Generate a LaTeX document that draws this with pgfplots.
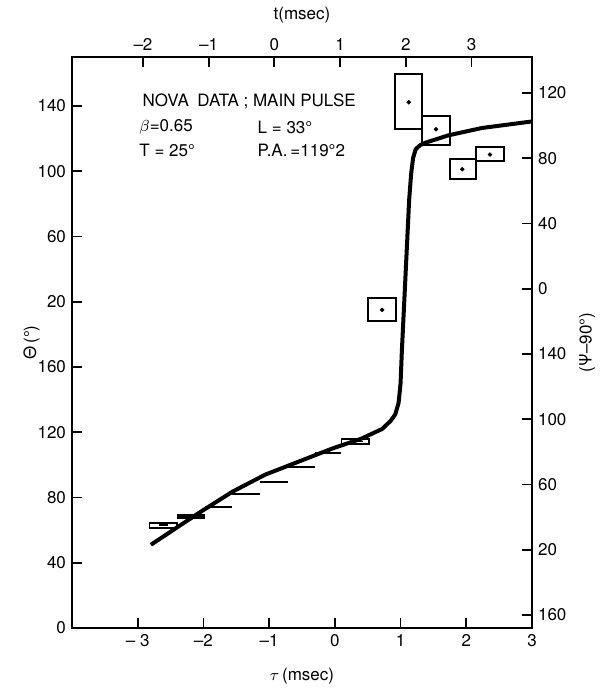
\documentclass[border=0pt]{standalone}
\usepackage{fontspec}
\setmainfont{TeX Gyre Heros}
\usepackage{pgfplots}
\pgfplotsset{compat=1.18}
\pgfplotsset{
  base/.style={
    width=230pt, height=285.5pt, scale only axis,
    at={(0,0)}, anchor=south west,
    /pgf/number format/assume math mode=true,
    tick style={line width=0.9pt, black},
    major tick length=5pt, tick align=inside,
    axis line style={-, line width=1.3pt},
    font=\fontsize{8.5}{10}\selectfont,
  },
  box/.style={black, line width=0.9pt, line join=miter},
}
\begin{document}
\fontsize{8.5}{10}\selectfont
\begin{tikzpicture}
\useasboundingbox (-36pt,-32pt) rectangle (264pt,314pt);
% main axis: tau vs Theta
\begin{axis}[base,
  xmin=-4, xmax=3, ymin=0, ymax=350,
  xtick={-3,...,3}, xticklabels={-- 3,--2,--1,0,1,2,3},
  ytick={0,40,...,320}, yticklabels={0,40,80,120,160,20,60,100,140},
  xtick pos=bottom, ytick pos=left,
  xlabel={$\tau$\,(msec)}, ylabel={Θ\,(°)},
  xlabel style={yshift=-5pt},
  ylabel style={yshift=-7pt},
]
% model curve
\addplot[black, line width=2pt, line join=round] coordinates {
  (-2.80,51) (-2.50,59) (-2.07,70.5) (-1.56,83.5) (-1.06,94)
  (-0.55,102) (-0.04,110) (0.40,116) (0.72,122) (0.85,127)
  (0.92,131) (0.97,138) (1.00,150) (1.02,170) (1.05,195)
  (1.08,220) (1.11,245) (1.13,262) (1.16,278) (1.19,288)
  (1.23,293.5) (1.30,296) (1.38,297.5) (1.73,302) (2.24,306.5) (3.00,310.5)
};
% low bins
\addplot[box] coordinates {(-2.82,61.5) (-2.40,61.5) (-2.40,64.6) (-2.82,64.6)} -- cycle;
\addplot[box] coordinates {(-2.68,63) (-2.54,63)};
\addplot[black, line width=0.6pt, fill=black] coordinates {(-2.40,67) (-1.98,67) (-1.98,69.7) (-2.40,69.7)} -- cycle;
\addplot[box] coordinates {(-1.98,74.4) (-1.56,74.4)};
\addplot[box] coordinates {(-1.56,82.3) (-1.14,82.3)};
\addplot[box] coordinates {(-1.14,89.7) (-0.72,89.7)};
\addplot[box] coordinates {(-0.72,98.9) (-0.30,98.9)};
\addplot[box] coordinates {(-0.30,107.1) (0.10,107.1)};
\addplot[box] coordinates {(0.10,112.8) (0.52,112.8) (0.52,115.9) (0.10,115.9)} -- cycle;
\addplot[box] coordinates {(0.20,114.3) (0.28,114.3)};
\addplot[box] coordinates {(0.33,114.3) (0.43,114.3)};
% high bins
\addplot[box] coordinates {(0.51,188.4) (0.93,188.4) (0.93,202.5) (0.51,202.5)} -- cycle;
\addplot[box] coordinates {(0.92,306) (1.33,306) (1.33,339.5) (0.92,339.5)} -- cycle;
\addplot[box] coordinates {(1.33,296.3) (1.75,296.3) (1.75,313.7) (1.33,313.7)} -- cycle;
\addplot[box] coordinates {(1.75,275.4) (2.15,275.4) (2.15,287.6) (1.75,287.6)} -- cycle;
\addplot[box] coordinates {(2.15,286.4) (2.57,286.4) (2.57,294.8) (2.15,294.8)} -- cycle;
\addplot[only marks, mark=*, mark size=0.9pt, black] coordinates {
  (0.72,195) (1.125,322.3) (1.54,305.7) (1.94,281.2) (2.36,290.2)
};
% annotation
\node[anchor=west, inner sep=0pt] at (axis cs:-2.93,322.5) {NOVA\enspace DATA ; MAIN PULSE};
\node[anchor=west, inner sep=0pt] at (axis cs:-2.98,307) {$\beta$=0.65};
\node[anchor=west, inner sep=0pt] at (axis cs:-1.18,307) {L = 33°};
\node[anchor=west, inner sep=0pt] at (axis cs:-2.98,293) {T = 25°};
\node[anchor=west, inner sep=0pt] at (axis cs:-1.18,293) {P.A.\,=119°2};
\end{axis}
% top axis: t
\begin{axis}[base,
  xmin=-3.08, xmax=3.92, ymin=0, ymax=350,
  axis x line*=top, hide y axis,
  xtick={-2,...,3}, xticklabels={--2,--1,0,1,2,3},
  xlabel={t(msec)},
  xlabel style={yshift=2pt},
]
\end{axis}
% right axis: Psi - 90
\begin{axis}[base,
  xmin=-4, xmax=3, ymin=152, ymax=502,
  axis y line*=right, hide x axis, clip=false,
  ytick={160,200,...,480}, yticklabels={160,20,60,100,140,0,40,80,120},
]
\node[rotate=90, anchor=center] at (rel axis cs:1.12,0.5) {(Ψ--90°)};
\end{axis}
\end{tikzpicture}
\end{document}
